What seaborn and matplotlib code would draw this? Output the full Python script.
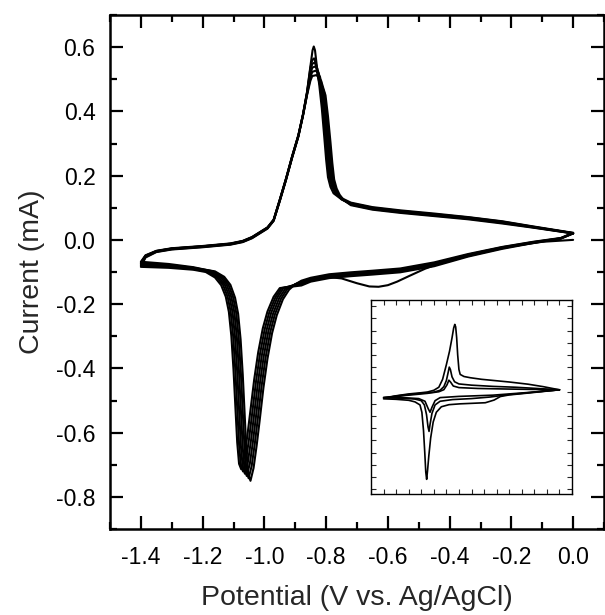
import matplotlib
matplotlib.use("Agg")
import matplotlib.pyplot as plt
import seaborn as sns
import pandas as pd
from matplotlib.ticker import MultipleLocator, FormatStrFormatter, NullFormatter

# ---------------- data: main plot (potential in V, current in mA) ----------------
# shared potential segments
E_down_flat = [0.00, -0.04, -0.13, -0.23, -0.34, -0.45, -0.56, -0.65, -0.72, -0.79, -0.85, -0.88]
E_tail = [-1.23, -1.31, -1.40]
E_up_head = [-1.40, -1.385, -1.35, -1.30, -1.20, -1.11, -1.07, -1.04, -1.02, -0.99, -0.97,
             -0.95, -0.93, -0.91, -0.89, -0.875, -0.862]

# cycle 1
c1_E_flat = [0.00, -0.10, -0.20, -0.30, -0.38, -0.43, -0.48, -0.53, -0.57, -0.60, -0.63, -0.66,
             -0.70, -0.75, -0.80, -0.86, -0.90]
c1_E_cath = [-0.92, -0.94, -0.96, -0.975, -0.99, -1.003, -1.015, -1.025, -1.035, -1.045, -1.052,
             -1.058, -1.064, -1.070, -1.077, -1.085, -1.095, -1.11, -1.13, -1.16]
c1_I_down = [0.000, -0.006, -0.020, -0.038, -0.058, -0.072, -0.090, -0.112, -0.130, -0.141, -0.146,
             -0.145, -0.135, -0.120, -0.115, -0.125, -0.138,
             -0.155, -0.185, -0.235, -0.290, -0.370, -0.460, -0.560, -0.640, -0.710, -0.750, -0.730,
             -0.660, -0.540, -0.420, -0.310, -0.230, -0.180, -0.140, -0.115, -0.098,
             -0.087, -0.078, -0.072]
c1_E_peak = [-0.851, -0.844, -0.840, -0.836, -0.830, -0.822, -0.814, -0.806, -0.800, -0.794, -0.786,
             -0.776, -0.75, -0.72, -0.65, -0.56, -0.45, -0.34, -0.23, -0.13, 0.00]
c1_I_up = [-0.072, -0.050, -0.035, -0.027, -0.020, -0.012, -0.004, 0.008, 0.020, 0.038, 0.062,
           0.125, 0.190, 0.260, 0.325, 0.390, 0.460,
           0.540, 0.590, 0.602, 0.590, 0.540, 0.480, 0.410, 0.320, 0.250, 0.195, 0.165,
           0.145, 0.126, 0.112, 0.098, 0.088, 0.078, 0.068, 0.055, 0.040, 0.021]

# cycle 2
c2_E_cath = [-0.926, -0.946, -0.966, -0.981, -0.996, -1.009, -1.021, -1.031, -1.041, -1.051, -1.058,
             -1.064, -1.070, -1.076, -1.083, -1.091, -1.101, -1.116, -1.136, -1.166]
c2_I_down = [0.022, 0.006, -0.006, -0.022, -0.044, -0.070, -0.089, -0.096, -0.101, -0.107, -0.118, -0.127,
             -0.153, -0.183, -0.232, -0.287, -0.366, -0.455, -0.554, -0.634, -0.703, -0.742, -0.722,
             -0.653, -0.535, -0.416, -0.307, -0.228, -0.179, -0.140, -0.115, -0.098,
             -0.085, -0.075, -0.068]
c2_E_peak = [-0.851, -0.845, -0.839, -0.832, -0.826, -0.818, -0.810, -0.802, -0.796, -0.790, -0.782,
             -0.772, -0.75, -0.72, -0.65, -0.56, -0.45, -0.34, -0.23, -0.13, 0.00]
c2_I_up = [-0.068, -0.048, -0.034, -0.026, -0.019, -0.011, -0.003, 0.009, 0.021, 0.039, 0.063,
           0.126, 0.191, 0.261, 0.326, 0.391, 0.458,
           0.535, 0.560, 0.565, 0.545, 0.505, 0.475, 0.405, 0.318, 0.250, 0.197, 0.168,
           0.148, 0.130, 0.116, 0.102, 0.092, 0.082, 0.071, 0.058, 0.042, 0.022]

# cycle 3
c3_E_cath = [-0.932, -0.952, -0.972, -0.987, -1.002, -1.015, -1.027, -1.037, -1.047, -1.057, -1.064,
             -1.070, -1.076, -1.082, -1.089, -1.097, -1.107, -1.122, -1.142, -1.172]
c3_I_down = [0.021, 0.005, -0.007, -0.023, -0.046, -0.073, -0.092, -0.099, -0.104, -0.110, -0.121, -0.130,
             -0.152, -0.181, -0.230, -0.284, -0.362, -0.450, -0.548, -0.628, -0.696, -0.735, -0.716,
             -0.648, -0.531, -0.413, -0.305, -0.227, -0.178, -0.140, -0.115, -0.098,
             -0.087, -0.078, -0.072]
c3_E_peak = [-0.851, -0.845, -0.837, -0.828, -0.822, -0.814, -0.806, -0.798, -0.792, -0.786, -0.778,
             -0.768, -0.75, -0.72, -0.65, -0.56, -0.45, -0.34, -0.23, -0.13, 0.00]
c3_I_up = [-0.072, -0.049, -0.035, -0.027, -0.020, -0.012, -0.004, 0.008, 0.020, 0.038, 0.062,
           0.124, 0.189, 0.259, 0.324, 0.389, 0.456,
           0.525, 0.548, 0.552, 0.532, 0.497, 0.470, 0.400, 0.315, 0.248, 0.195, 0.166,
           0.146, 0.128, 0.114, 0.100, 0.090, 0.080, 0.070, 0.057, 0.041, 0.021]

# cycle 4
c4_E_cath = [-0.938, -0.958, -0.978, -0.993, -1.008, -1.021, -1.033, -1.043, -1.053, -1.063, -1.070,
             -1.076, -1.082, -1.088, -1.095, -1.103, -1.113, -1.128, -1.148, -1.178]
c4_I_down = [0.021, 0.005, -0.008, -0.025, -0.048, -0.076, -0.095, -0.102, -0.107, -0.113, -0.124, -0.134,
             -0.150, -0.179, -0.227, -0.281, -0.358, -0.445, -0.542, -0.622, -0.689, -0.728, -0.709,
             -0.642, -0.526, -0.410, -0.303, -0.226, -0.177, -0.140, -0.116, -0.099,
             -0.089, -0.081, -0.076]
c4_E_peak = [-0.851, -0.845, -0.835, -0.824, -0.818, -0.810, -0.802, -0.794, -0.788, -0.782, -0.774,
             -0.764, -0.75, -0.72, -0.65, -0.56, -0.45, -0.34, -0.23, -0.13, 0.00]
c4_I_up = [-0.076, -0.051, -0.036, -0.028, -0.021, -0.013, -0.005, 0.007, 0.019, 0.037, 0.061,
           0.123, 0.188, 0.258, 0.323, 0.388, 0.454,
           0.515, 0.536, 0.540, 0.520, 0.490, 0.465, 0.395, 0.312, 0.245, 0.193, 0.164,
           0.144, 0.126, 0.112, 0.098, 0.088, 0.078, 0.068, 0.055, 0.040, 0.021]

# cycle 5
c5_E_cath = [-0.944, -0.964, -0.984, -0.999, -1.014, -1.027, -1.039, -1.049, -1.059, -1.069, -1.076,
             -1.082, -1.088, -1.094, -1.101, -1.109, -1.119, -1.134, -1.154, -1.184]
c5_I_down = [0.020, 0.004, -0.009, -0.026, -0.050, -0.079, -0.098, -0.105, -0.110, -0.116, -0.127, -0.138,
             -0.150, -0.178, -0.225, -0.278, -0.354, -0.440, -0.536, -0.615, -0.682, -0.721, -0.703,
             -0.636, -0.522, -0.407, -0.301, -0.225, -0.177, -0.140, -0.116, -0.099,
             -0.091, -0.084, -0.080]
c5_E_peak = [-0.851, -0.845, -0.833, -0.820, -0.814, -0.806, -0.798, -0.790, -0.784, -0.778, -0.770,
             -0.760, -0.745, -0.72, -0.65, -0.56, -0.45, -0.34, -0.23, -0.13, 0.00]
c5_I_up = [-0.080, -0.053, -0.037, -0.029, -0.022, -0.014, -0.006, 0.006, 0.018, 0.036, 0.060,
           0.122, 0.187, 0.257, 0.322, 0.387, 0.452,
           0.505, 0.523, 0.527, 0.508, 0.482, 0.458, 0.390, 0.308, 0.242, 0.190, 0.162,
           0.142, 0.125, 0.110, 0.096, 0.086, 0.076, 0.066, 0.053, 0.039, 0.020]

# cycle 6
c6_E_cath = [-0.950, -0.970, -0.990, -1.005, -1.020, -1.033, -1.045, -1.055, -1.065, -1.075, -1.082,
             -1.088, -1.094, -1.100, -1.107, -1.115, -1.125, -1.140, -1.160, -1.190]
c6_I_down = [0.020, 0.004, -0.010, -0.028, -0.052, -0.082, -0.101, -0.108, -0.113, -0.119, -0.130, -0.142,
             -0.150, -0.177, -0.223, -0.275, -0.350, -0.435, -0.530, -0.609, -0.675, -0.714, -0.697,
             -0.630, -0.518, -0.404, -0.299, -0.224, -0.177, -0.141, -0.117, -0.100,
             -0.093, -0.087, -0.084]
c6_E_peak = [-0.851, -0.845, -0.831, -0.816, -0.810, -0.802, -0.794, -0.786, -0.780, -0.774, -0.766,
             -0.756, -0.742, -0.72, -0.65, -0.56, -0.45, -0.34, -0.23, -0.13, 0.00]
c6_I_up = [-0.084, -0.055, -0.038, -0.030, -0.023, -0.015, -0.007, 0.005, 0.017, 0.035, 0.059,
           0.121, 0.186, 0.256, 0.321, 0.386, 0.450,
           0.495, 0.510, 0.513, 0.495, 0.475, 0.450, 0.385, 0.305, 0.240, 0.188, 0.160,
           0.140, 0.123, 0.108, 0.094, 0.084, 0.074, 0.064, 0.051, 0.038, 0.020]

# ---------------- data: inset ----------------
in1_E = [0.00, -0.15, -0.31, -0.40, -0.47, -0.52, -0.59, -0.70, -0.79, -0.88, -0.94, -0.98, -1.005,
         -1.025, -1.040, -1.050, -1.057, -1.064, -1.072, -1.082, -1.095, -1.11, -1.15, -1.20, -1.30, -1.40,
         -1.30, -1.20, -1.10, -1.05, -1.00, -0.96, -0.93, -0.90, -0.875, -0.855, -0.842, -0.833, -0.826,
         -0.818, -0.810, -0.800, -0.79, -0.76, -0.71, -0.62, -0.53, -0.40, -0.25, -0.13, 0.00]
in1_I = [0.014, -0.002, -0.019, -0.028, -0.041, -0.070, -0.092, -0.097, -0.101, -0.108, -0.125, -0.170,
         -0.250, -0.380, -0.530, -0.650, -0.720, -0.660, -0.500, -0.320, -0.170, -0.110, -0.085, -0.072,
         -0.064, -0.060,
         -0.035, -0.020, -0.010, -0.004, 0.010, 0.035, 0.100, 0.220, 0.330, 0.440, 0.520, 0.550, 0.530,
         0.440, 0.300, 0.180, 0.140, 0.123, 0.113, 0.100, 0.091, 0.078, 0.060, 0.040, 0.014]
in2_E = [0.00, -0.20, -0.40, -0.55, -0.70, -0.85, -0.95, -0.99, -1.015, -1.030, -1.038, -1.046, -1.058,
         -1.075, -1.10, -1.15, -1.25, -1.40,
         -1.25, -1.10, -1.00, -0.95, -0.92, -0.90, -0.885, -0.877, -0.868, -0.855, -0.835, -0.80, -0.70,
         -0.53, -0.35, -0.18, 0.00]
in2_I = [0.014, -0.005, -0.025, -0.045, -0.058, -0.066, -0.080, -0.110, -0.180, -0.270, -0.327, -0.290,
         -0.190, -0.110, -0.075, -0.062, -0.055, -0.052,
         -0.030, -0.015, -0.005, 0.010, 0.040, 0.090, 0.160, 0.200, 0.180, 0.120, 0.080, 0.062, 0.052,
         0.042, 0.035, 0.025, 0.014]
in3_E = [0.00, -0.25, -0.53, -0.80, -0.95, -0.99, -1.015, -1.030, -1.045, -1.07, -1.12, -1.25, -1.40,
         -1.20, -1.05, -0.96, -0.92, -0.895, -0.880, -0.865, -0.845, -0.80, -0.65, -0.40, -0.20, 0.00]
in3_I = [0.014, -0.008, -0.030, -0.040, -0.050, -0.075, -0.130, -0.170, -0.140, -0.080, -0.058, -0.050,
         -0.048,
         -0.030, -0.015, -0.002, 0.015, 0.055, 0.093, 0.075, 0.045, 0.032, 0.025, 0.020, 0.017, 0.014]

x_ticks = [-1.4, -1.2, -1.0, -0.8, -0.6, -0.4, -0.2, 0.0]
y_ticks = [-0.8, -0.6, -0.4, -0.2, 0.0, 0.2, 0.4, 0.6]
x_label = "Potential (V vs. Ag/AgCl)"
y_label = "Current (mA)"

# ---------------- assemble ----------------
cycles = {
    1: (c1_E_flat + c1_E_cath + E_tail + E_up_head + c1_E_peak, c1_I_down + c1_I_up),
    2: (E_down_flat + c2_E_cath + E_tail + E_up_head + c2_E_peak, c2_I_down + c2_I_up),
    3: (E_down_flat + c3_E_cath + E_tail + E_up_head + c3_E_peak, c3_I_down + c3_I_up),
    4: (E_down_flat + c4_E_cath + E_tail + E_up_head + c4_E_peak, c4_I_down + c4_I_up),
    5: (E_down_flat + c5_E_cath + E_tail + E_up_head + c5_E_peak, c5_I_down + c5_I_up),
    6: (E_down_flat + c6_E_cath + E_tail + E_up_head + c6_E_peak, c6_I_down + c6_I_up),
}
frames = []
for k, (E, I) in cycles.items():
    assert len(E) == len(I), (k, len(E), len(I))
    frames.append(pd.DataFrame({"E": E, "I": I, "cycle": k}))
df_main = pd.concat(frames, ignore_index=True)

inset = {1: (in1_E, in1_I), 2: (in2_E, in2_I), 3: (in3_E, in3_I)}
frames = []
for k, (E, I) in inset.items():
    assert len(E) == len(I), (k, len(E), len(I))
    frames.append(pd.DataFrame({"E": E, "I": I, "curve": k}))
df_inset = pd.concat(frames, ignore_index=True)

# ---------------- plot ----------------
sns.set_style("ticks")
plt.rcParams["font.family"] = ["Liberation Sans", "DejaVu Sans"]
plt.rcParams["axes.unicode_minus"] = False

fig = plt.figure(figsize=(6.05, 6.15), dpi=100)
ax = fig.add_axes([110 / 605, 1 - 529 / 615, 494 / 605, 514 / 615])

sns.lineplot(data=df_main, x="E", y="I", units="cycle", estimator=None, sort=False,
             color="black", linewidth=1.5, ax=ax, legend=False)

ax.set_xlim(-1.5, 0.1)
ax.set_ylim(-0.9, 0.7)
ax.set_xticks(x_ticks)
ax.set_yticks(y_ticks)
ax.xaxis.set_minor_locator(MultipleLocator(0.1))
ax.yaxis.set_minor_locator(MultipleLocator(0.1))
ax.xaxis.set_major_formatter(FormatStrFormatter("%.1f"))
ax.yaxis.set_major_formatter(FormatStrFormatter("%.1f"))
ax.tick_params(which="both", direction="in", top=True, right=True, width=1.6, colors="black")
ax.tick_params(which="major", length=9.5, labelsize=16.5)
ax.tick_params(axis="y", which="major", pad=10.5)
ax.tick_params(axis="x", which="major", pad=12.5)
ax.tick_params(which="minor", length=5)
for s in ax.spines.values():
    s.set_linewidth(1.8)
    s.set_color("black")
ax.set_xlabel(x_label, fontsize=20.5, labelpad=11)
ax.set_ylabel(y_label, fontsize=20.5, labelpad=8)

axin = fig.add_axes([371 / 605, 1 - 494 / 615, 201 / 605, 194 / 615])
sns.lineplot(data=df_inset, x="E", y="I", units="curve", estimator=None, sort=False,
             color="black", linewidth=1.2, ax=axin, legend=False)
axin.set_xlim(-1.5, 0.1)
axin.set_ylim(-0.84, 0.75)
axin.xaxis.set_major_locator(MultipleLocator(0.1))
axin.yaxis.set_major_locator(MultipleLocator(0.1))
axin.xaxis.set_major_formatter(NullFormatter())
axin.yaxis.set_major_formatter(NullFormatter())
axin.tick_params(which="both", direction="in", top=True, right=True, length=3.5, width=0.8)
axin.set_xlabel("")
axin.set_ylabel("")
for s in axin.spines.values():
    s.set_linewidth(1.0)
    s.set_color("black")

fig.savefig("out.png", dpi=100)
